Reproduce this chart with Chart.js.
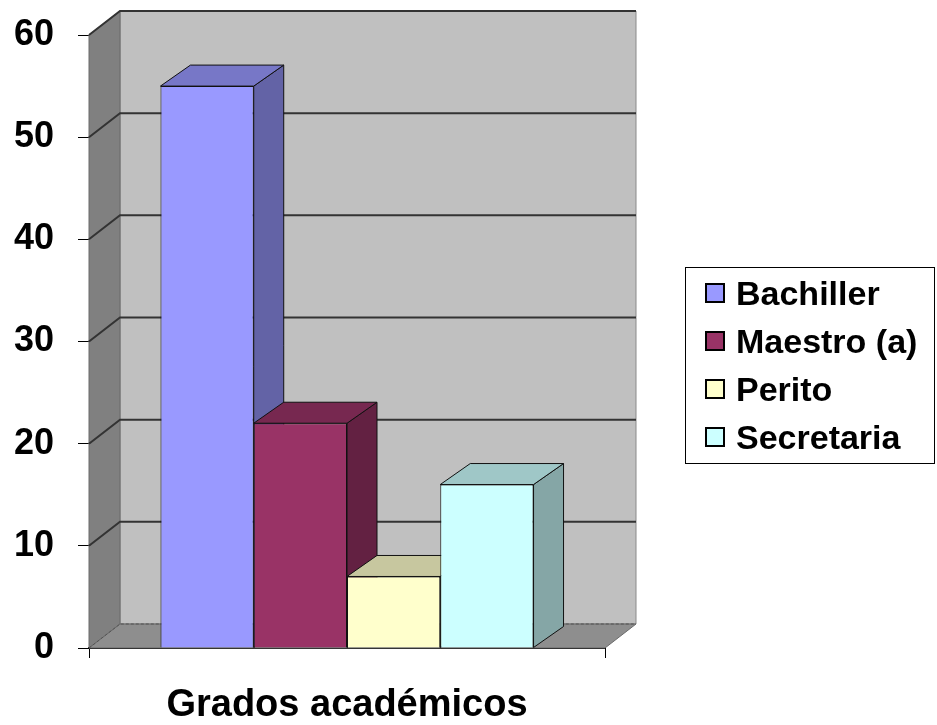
<!DOCTYPE html>
<html>
<head>
<meta charset="utf-8">
<script src="https://cdn.jsdelivr.net/npm/chart.js@4/dist/chart.umd.min.js"></script>
<style>
  html, body { margin: 0; padding: 0; background: #fff; }
  #wrap { position: relative; width: 937px; height: 725px; }
  #legend {
    position: absolute; left: 685px; top: 267px; width: 250px; height: 197px;
    box-sizing: border-box; border: 1px solid #000; padding-top: 1px;
    font: bold 34px "Liberation Sans", Arial, sans-serif; color: #000;
  }
  #legend .item { height: 48px; line-height: 48px; white-space: nowrap; display: flex; align-items: center; }
  #legend .sw { width: 16px; height: 16px; border: 2px solid #000; margin: 0 11px 0 19px; flex: none; }
</style>
</head>
<body>
<div id="wrap">
  <canvas id="chart" width="937" height="725"></canvas>
  <div id="legend"></div>
</div>
<script>
// Grados académicos - columnas en 3D al estilo de Excel
const categories = ['Bachiller', 'Maestro (a)', 'Perito', 'Secretaria'];
const values = [55, 22, 7, 16];
const colors = ['#9999FF', '#993366', '#FFFFCC', '#CCFFFF'];
const yMin = 0;
const yMax = 60;
const yStep = 10;
const axisTitle = 'Grados académicos';

const FONT = '"Liberation Sans", Arial, sans-serif';
const WALL = { dx: 31, dy: -24 };  // profundidad de paredes y piso
const BAR = { dx: 30, dy: -21 };   // profundidad de cada columna

// oscurece un color hex por un factor
function shade(hex, f) {
  const n = parseInt(hex.slice(1), 16);
  const r = Math.round(((n >> 16) & 255) * f);
  const g = Math.round(((n >> 8) & 255) * f);
  const b = Math.round((n & 255) * f);
  return `rgb(${r},${g},${b})`;
}

function poly(ctx, pts, fill, stroke, lw) {
  ctx.beginPath();
  ctx.moveTo(pts[0][0], pts[0][1]);
  for (let i = 1; i < pts.length; i++) ctx.lineTo(pts[i][0], pts[i][1]);
  ctx.closePath();
  if (fill) { ctx.fillStyle = fill; ctx.fill(); }
  if (stroke) { ctx.strokeStyle = stroke; ctx.lineWidth = lw || 1; ctx.stroke(); }
}

// paredes, piso, líneas de división y caras laterales/superiores
const fake3d = {
  id: 'fake3d',
  beforeDatasetsDraw(chart) {
    const ctx = chart.ctx;
    const { left, right, top, bottom } = chart.chartArea;
    const ys = chart.scales.y;
    const dx = WALL.dx, dy = WALL.dy;
    ctx.save();

    // pared del fondo
    poly(ctx, [[left + dx, top + dy], [right + dx, top + dy], [right + dx, bottom + dy], [left + dx, bottom + dy]],
      '#c0c0c0', '#8a8a8a', 1);
    // pared izquierda
    poly(ctx, [[left, top], [left + dx, top + dy], [left + dx, bottom + dy], [left, bottom]], '#808080', '#6a6a6a', 1);
    // piso
    poly(ctx, [[left, bottom], [left + dx, bottom + dy], [right + dx, bottom + dy], [right, bottom]], '#8e8e8e', '#6a6a6a', 1);

    // líneas de división
    ys.ticks.forEach(t => {
      const py = ys.getPixelForValue(t.value);
      ctx.beginPath();
      ctx.moveTo(left, py);
      ctx.lineTo(left + dx, py + dy);
      ctx.lineTo(right + dx, py + dy);
      ctx.strokeStyle = t.value === yMin ? '#555' : '#333';
      ctx.lineWidth = t.value === yMin ? 1 : 2;
      ctx.setLineDash(t.value === yMin ? [3, 2] : []);
      ctx.stroke();
    });
    ctx.setLineDash([]);

    // caras laterales y superiores, de izquierda a derecha
    for (let i = 0; i < chart.data.datasets.length; i++) {
      const el = chart.getDatasetMeta(i).data[0];
      if (!el) continue;
      const { x, y, base, width } = el.getProps(['x', 'y', 'base', 'width'], true);
      const x0 = x - width / 2, x1 = x + width / 2;
      const c = colors[i];
      poly(ctx, [[x1, y], [x1 + BAR.dx, y + BAR.dy], [x1 + BAR.dx, base + BAR.dy], [x1, base]], shade(c, 0.65), '#111', 1);
      poly(ctx, [[x0, y], [x0 + BAR.dx, y + BAR.dy], [x1 + BAR.dx, y + BAR.dy], [x1, y]], shade(c, 0.78), '#111', 1);
    }
    ctx.restore();
  }
};

new Chart(document.getElementById('chart'), {
  type: 'bar',
  data: {
    labels: [''],
    datasets: categories.map((c, i) => ({
      label: c,
      data: [values[i]],
      backgroundColor: colors[i],
      borderColor: '#111',
      borderWidth: 1,
      categoryPercentage: 0.723,
      barPercentage: 1
    }))
  },
  options: {
    responsive: false,
    animation: false,
    devicePixelRatio: 1,
    layout: { padding: { top: 35, right: 332, bottom: 0, left: 0 } },
    plugins: {
      tooltip: { enabled: false },
      legend: { display: false }
    },
    scales: {
      x: {
        afterFit(s) { s.height = 77; s.paddingLeft = 0; s.paddingRight = 0; },
        ticks: { display: false },
        grid: { drawOnChartArea: false, drawTicks: true, tickLength: 10, color: '#000' },
        border: { display: true, color: '#000', width: 2, dash: [1, 1] },
        title: {
          display: true,
          text: axisTitle,
          color: '#000',
          font: { family: FONT, size: 38, weight: 'bold', lineHeight: 1 },
          padding: { top: 0, bottom: 0 }
        }
      },
      y: {
        min: yMin,
        max: yMax,
        afterFit(s) { s.width = 89; s.paddingTop = 0; s.paddingBottom = 0; },
        ticks: {
          stepSize: yStep,
          color: '#000',
          padding: 24,
          font: { family: FONT, size: 36, weight: 'bold' }
        },
        grid: { drawOnChartArea: false, drawTicks: true, tickLength: 11, color: '#000' },
        border: { display: true, color: '#000', width: 1 }
      }
    }
  },
  plugins: [fake3d]
});

// leyenda con marco, como en la hoja original
const legendEl = document.getElementById('legend');
categories.forEach((c, i) => {
  const row = document.createElement('div');
  row.className = 'item';
  row.innerHTML = `<span class="sw" style="background:${colors[i]}"></span><span>${c}</span>`;
  legendEl.appendChild(row);
});
</script>
</body>
</html>
